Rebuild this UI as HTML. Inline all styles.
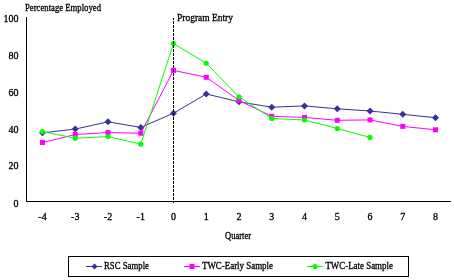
<!DOCTYPE html>
<html><head><meta charset="utf-8"><style>
html,body{margin:0;padding:0;background:#fff;width:454px;height:280px;overflow:hidden}
svg{display:block;font-family:"Liberation Serif",serif;font-size:10px}
text{stroke:#000;stroke-width:0.3px}
</style></head><body>
<svg style="will-change:transform" width="454" height="280" viewBox="0 0 454 280">
<rect width="454" height="280" fill="#fff"/>
<text x="25" y="11.1" textLength="76" lengthAdjust="spacingAndGlyphs">Percentage Employed</text>
<g fill="#000"><text x="18.5" y="21.90" text-anchor="end">100</text><text x="18.5" y="58.90" text-anchor="end">80</text><text x="18.5" y="95.90" text-anchor="end">60</text><text x="18.5" y="133.10" text-anchor="end">40</text><text x="18.5" y="169.10" text-anchor="end">20</text><text x="18.5" y="207.10" text-anchor="end">0</text></g>
<g fill="#000"><text x="42.50" y="220" text-anchor="middle">-4</text><text x="75.25" y="220" text-anchor="middle">-3</text><text x="108.00" y="220" text-anchor="middle">-2</text><text x="140.75" y="220" text-anchor="middle">-1</text><text x="173.50" y="220" text-anchor="middle">0</text><text x="206.25" y="220" text-anchor="middle">1</text><text x="239.00" y="220" text-anchor="middle">2</text><text x="271.75" y="220" text-anchor="middle">3</text><text x="304.50" y="220" text-anchor="middle">4</text><text x="337.25" y="220" text-anchor="middle">5</text><text x="370.00" y="220" text-anchor="middle">6</text><text x="402.75" y="220" text-anchor="middle">7</text><text x="435.50" y="220" text-anchor="middle">8</text></g>
<text x="225" y="238.9" textLength="26" lengthAdjust="spacingAndGlyphs">Quarter</text>
<path d="M26.5 17V202M26 201.5H451" stroke="#000" stroke-width="1" fill="none"/>
<polyline points="42.50,132.80 75.25,129.10 108.00,121.80 140.75,127.40 173.50,113.20 206.25,94.00 239.00,101.80 271.75,107.20 304.50,105.90 337.25,108.80 370.00,111.00 402.75,114.30 435.50,117.70" fill="none" stroke="#333399" stroke-width="1"/>
<path d="M42.50 129.30L46.00 132.80L42.50 136.30L39.00 132.80Z" fill="#333399"/>
<path d="M75.25 125.60L78.75 129.10L75.25 132.60L71.75 129.10Z" fill="#333399"/>
<path d="M108.00 118.30L111.50 121.80L108.00 125.30L104.50 121.80Z" fill="#333399"/>
<path d="M140.75 123.90L144.25 127.40L140.75 130.90L137.25 127.40Z" fill="#333399"/>
<path d="M173.50 109.70L177.00 113.20L173.50 116.70L170.00 113.20Z" fill="#333399"/>
<path d="M206.25 90.50L209.75 94.00L206.25 97.50L202.75 94.00Z" fill="#333399"/>
<path d="M239.00 98.30L242.50 101.80L239.00 105.30L235.50 101.80Z" fill="#333399"/>
<path d="M271.75 103.70L275.25 107.20L271.75 110.70L268.25 107.20Z" fill="#333399"/>
<path d="M304.50 102.40L308.00 105.90L304.50 109.40L301.00 105.90Z" fill="#333399"/>
<path d="M337.25 105.30L340.75 108.80L337.25 112.30L333.75 108.80Z" fill="#333399"/>
<path d="M370.00 107.50L373.50 111.00L370.00 114.50L366.50 111.00Z" fill="#333399"/>
<path d="M402.75 110.80L406.25 114.30L402.75 117.80L399.25 114.30Z" fill="#333399"/>
<path d="M435.50 114.20L439.00 117.70L435.50 121.20L432.00 117.70Z" fill="#333399"/>
<polyline points="42.50,142.50 75.25,134.50 108.00,132.60 140.75,133.20 173.50,70.40 206.25,77.30 239.00,100.40 271.75,116.30 304.50,117.40 337.25,120.30 370.00,119.90 402.75,126.40 435.50,129.80" fill="none" stroke="#FF00FF" stroke-width="1"/>
<rect x="40.00" y="140.00" width="5.0" height="5.0" fill="#FF00FF"/>
<rect x="72.75" y="132.00" width="5.0" height="5.0" fill="#FF00FF"/>
<rect x="105.50" y="130.10" width="5.0" height="5.0" fill="#FF00FF"/>
<rect x="138.25" y="130.70" width="5.0" height="5.0" fill="#FF00FF"/>
<rect x="171.00" y="67.90" width="5.0" height="5.0" fill="#FF00FF"/>
<rect x="203.75" y="74.80" width="5.0" height="5.0" fill="#FF00FF"/>
<rect x="236.50" y="97.90" width="5.0" height="5.0" fill="#FF00FF"/>
<rect x="269.25" y="113.80" width="5.0" height="5.0" fill="#FF00FF"/>
<rect x="302.00" y="114.90" width="5.0" height="5.0" fill="#FF00FF"/>
<rect x="334.75" y="117.80" width="5.0" height="5.0" fill="#FF00FF"/>
<rect x="367.50" y="117.40" width="5.0" height="5.0" fill="#FF00FF"/>
<rect x="400.25" y="123.90" width="5.0" height="5.0" fill="#FF00FF"/>
<rect x="433.00" y="127.30" width="5.0" height="5.0" fill="#FF00FF"/>
<polyline points="42.50,131.60 75.25,138.20 108.00,136.60 140.75,144.10 173.50,43.50 206.25,63.30 239.00,96.80 271.75,118.40 304.50,120.00 337.25,128.50 370.00,137.40" fill="none" stroke="#00FF00" stroke-width="1"/>
<circle cx="42.50" cy="131.60" r="2.6" fill="#00FF00"/>
<circle cx="75.25" cy="138.20" r="2.6" fill="#00FF00"/>
<circle cx="108.00" cy="136.60" r="2.6" fill="#00FF00"/>
<circle cx="140.75" cy="144.10" r="2.6" fill="#00FF00"/>
<circle cx="173.50" cy="43.50" r="2.6" fill="#00FF00"/>
<circle cx="206.25" cy="63.30" r="2.6" fill="#00FF00"/>
<circle cx="239.00" cy="96.80" r="2.6" fill="#00FF00"/>
<circle cx="271.75" cy="118.40" r="2.6" fill="#00FF00"/>
<circle cx="304.50" cy="120.00" r="2.6" fill="#00FF00"/>
<circle cx="337.25" cy="128.50" r="2.6" fill="#00FF00"/>
<circle cx="370.00" cy="137.40" r="2.6" fill="#00FF00"/>
<line x1="173.5" y1="18" x2="173.5" y2="203" stroke="#000" stroke-width="1" stroke-dasharray="3 1" stroke-dashoffset="1"/>
<text x="177" y="21" textLength="56" lengthAdjust="spacingAndGlyphs">Program Entry</text>
<rect x="68.5" y="256.5" width="340" height="20" fill="none" stroke="#000" stroke-width="1"/>
<line x1="86" y1="266.5" x2="102" y2="266.5" stroke="#333399"/>
<path d="M94.50 263.50L97.50 266.50L94.50 269.50L91.50 266.50Z" fill="#333399"/>
<text x="104" y="269" textLength="45" lengthAdjust="spacingAndGlyphs">RSC Sample</text>
<line x1="184" y1="266.5" x2="200" y2="266.5" stroke="#FF00FF"/>
<rect x="189.50" y="264.00" width="5.0" height="5.0" fill="#FF00FF"/>
<text x="202" y="269" textLength="71" lengthAdjust="spacingAndGlyphs">TWC-Early Sample</text>
<line x1="307" y1="266.5" x2="323" y2="266.5" stroke="#00FF00"/>
<circle cx="315.00" cy="266.50" r="2.6" fill="#00FF00"/>
<text x="325.4" y="269" textLength="67.5" lengthAdjust="spacingAndGlyphs">TWC-Late Sample</text>
</svg>
</body></html>
